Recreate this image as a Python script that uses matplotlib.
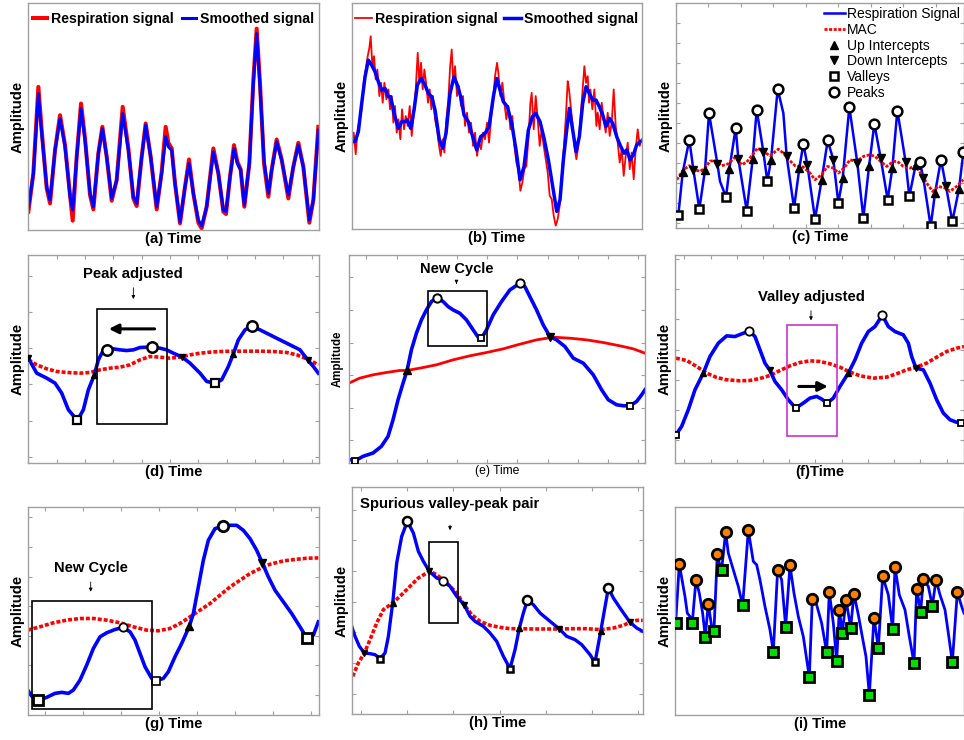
import numpy as np
import matplotlib
matplotlib.use('Agg')
import matplotlib.pyplot as plt
from matplotlib.patches import Rectangle
from matplotlib.lines import Line2D

plt.rcParams['font.family'] = ['Liberation Sans', 'DejaVu Sans']
plt.rcParams['font.weight'] = 'bold'

W, H = 964, 740
BLUE = '#0000ff'
RED = '#ff0000'
GREY = '#a0a0a0'
MAC_DOTS = (0, (1.1, 0.55))

# ---------------- data (arbitrary units) ----------------
# (a) respiration vs smoothed
a_t = [2, 17, 32, 42, 57, 67, 82, 97, 112, 127, 135, 147, 160, 172, 187, 197, 212, 224, 237, 252,
       267, 285, 302, 317, 327, 342, 354, 369, 387, 402, 414, 422, 432, 442, 457, 472, 484, 497, 512, 522,
       537, 557, 572, 587, 595, 607, 619, 629, 639, 644, 650, 665, 677, 687, 697, 709, 722, 732, 747, 762,
       782, 797, 812, 827, 845, 857, 872]
a_smooth = [65, 170, 410, 290, 130, 90, 240, 335, 250, 100, 60, 220, 365, 270, 110, 70, 230, 305, 220, 95,
            150, 350, 240, 100, 80, 220, 315, 220, 70, 170, 280, 250, 240, 140, 25, 130, 200, 110, 30, 12,
            70, 235, 170, 60, 55, 160, 245, 200, 180, 130, 75, 200, 440, 590, 430, 210, 110, 180, 265, 210,
            105, 190, 255, 190, 30, 90, 300]
a_resp = [55, 170, 430, 300, 125, 80, 240, 345, 255, 105, 28, 220, 380, 275, 105, 62, 230, 310, 220, 88,
          150, 370, 245, 95, 72, 220, 320, 220, 62, 175, 310, 262, 245, 140, 20, 130, 212, 110, 22, 5,
          70, 245, 170, 55, 48, 160, 255, 205, 182, 130, 70, 200, 450, 605, 440, 200, 100, 180, 272, 212,
          95, 190, 262, 190, 22, 90, 310]

# (b) noisy respiration vs smoothed
b_t = [0, 10, 20, 30, 40, 50, 60, 70, 80, 90, 100, 110, 117, 127, 140, 150, 160, 167, 177, 187,
       197, 208, 220, 230, 240, 250, 263, 273, 283, 295, 307, 317, 327, 337, 350, 360, 375, 387, 400, 412,
       425, 435, 445, 455, 467, 480, 493, 505, 517, 530, 542, 552, 565, 577, 590, 603, 615, 625, 635, 645,
       653, 663, 673, 683, 693, 703, 713, 723, 733, 743, 753, 763, 773, 783, 795, 805, 817, 825, 835, 845,
       855, 865]
b_smooth = [263, 263, 293, 378, 458, 508, 493, 473, 443, 418, 423, 398, 398, 348, 303, 323, 323, 328, 303, 358,
            433, 453, 433, 408, 398, 358, 268, 243, 288, 408, 458, 433, 398, 343, 323, 288, 238, 278, 288, 308,
            398, 453, 418, 383, 368, 318, 238, 148, 188, 298, 338, 348, 323, 273, 208, 128, 53, 88, 208, 298,
            363, 298, 233, 278, 378, 428, 408, 388, 388, 368, 343, 308, 333, 318, 278, 253, 228, 238, 208, 223,
            253, 263]
b_rt = [0, 6, 12, 18, 24, 30, 36, 42, 48, 53, 57, 62, 67, 72, 77, 83, 88, 93, 98, 104,
        110, 115, 120, 125, 130, 135, 140, 146, 151, 157, 162, 168, 174, 180, 186, 192, 198, 203, 208, 213,
        218, 223, 229, 234, 239, 244, 250, 256, 262, 267, 273, 278, 284, 290, 295, 300, 305, 310, 316, 322,
        328, 334, 340, 346, 352, 358, 364, 370, 376, 382, 388, 394, 400, 406, 412, 418, 424, 430, 436, 440,
        446, 452, 458, 464, 470, 476, 482, 488, 494, 500, 506, 512, 518, 524, 530, 536, 540, 546, 552, 558,
        564, 570, 576, 582, 588, 594, 600, 606, 612, 618, 624, 630, 636, 642, 648, 652, 656, 662, 668, 674,
        680, 686, 692, 698, 703, 708, 712, 716, 722, 728, 734, 738, 744, 750, 756, 762, 768, 774, 780, 786,
        792, 798, 804, 810, 816, 822, 828, 834, 840, 846, 852, 858, 864, 870]
b_resp = [240, 290, 225, 300, 330, 360, 440, 480, 520, 545, 580, 490, 520, 450, 480, 400, 440, 380, 440, 390,
          420, 360, 400, 320, 370, 290, 330, 270, 360, 300, 340, 310, 370, 280, 340, 420, 530, 440, 500, 420,
          480, 440, 380, 420, 360, 400, 330, 300, 250, 220, 270, 230, 330, 390, 485, 540, 440, 490, 400, 430,
          370, 400, 310, 350, 290, 320, 250, 290, 220, 260, 240, 290, 270, 320, 260, 330, 380, 460, 500, 470,
          400, 440, 380, 330, 370, 300, 340, 250, 200, 180, 115, 140, 180, 190, 270, 380, 410, 300, 400, 330,
          250, 300, 250, 210, 170, 100, 90, 40, 10, 30, 70, 160, 240, 330, 445, 420, 380, 320, 250, 210,
          250, 330, 410, 490, 440, 460, 380, 420, 360, 420, 310, 350, 300, 380, 330, 290, 350, 280, 320, 420,
          310, 260, 200, 240, 160, 220, 260, 180, 230, 150, 240, 300, 250, 270]

# (c) signal, MAC and detected points
c_t = [8, 21, 41, 53, 71, 88, 100, 125, 133, 151, 161, 180, 188, 213, 231, 243, 263, 275, 286, 306,
       323, 333, 355, 371, 383, 395, 418, 438, 456, 473, 488, 501, 521, 545, 563, 580, 596, 615, 636, 650,
       665, 690, 701, 720, 733, 743, 765, 778, 796, 811, 830, 850, 863]
c_sig = [40, 167, 265, 175, 57, 175, 345, 193, 140, 93, 177, 300, 207, 52, 207, 355, 229, 140, 205, 417,
         345, 215, 60, 180, 253, 190, 27, 145, 263, 205, 75, 150, 363, 195, 30, 185, 313, 210, 85, 180,
         353, 198, 95, 190, 197, 150, 5, 105, 205, 125, 20, 117, 228]
c_mac_t = [3, 23, 41, 58, 73, 88, 103, 118, 138, 158, 178, 198, 213, 233, 245, 263, 283, 308, 323, 338,
           358, 383, 403, 418, 438, 455, 473, 488, 505, 523, 543, 563, 583, 598, 615, 633, 653, 665, 683, 703,
           720, 738, 753, 771, 788, 808, 823, 843, 863]
c_mac = [145, 175, 187, 175, 170, 180, 201, 202, 187, 193, 213, 190, 198, 223, 240, 230, 217, 237, 225, 207,
         187, 183, 165, 145, 160, 185, 180, 165, 180, 205, 200, 215, 220, 215, 200, 185, 200, 200, 185, 180,
         187, 160, 135, 110, 125, 120, 110, 125, 145]
c_valleys = [0, 4, 9, 13, 17, 22, 26, 30, 34, 38, 42, 46, 50]
c_ups = [1, 5, 10, 14, 18, 23, 27, 31, 35, 39, 43, 47, 51]
c_peaks = [2, 6, 11, 15, 19, 24, 28, 32, 36, 40, 44, 48, 52]
c_downs = [3, 7, 12, 16, 21, 25, 29, 33, 37, 41, 45, 49]

# (d) peak adjusted
d_t = [2, 27, 57, 82, 102, 122, 149, 167, 182, 200, 212, 225, 237, 257, 277, 297, 317, 337, 357, 374,
       397, 417, 437, 464, 487, 517, 537, 562, 582, 602, 617, 632, 652, 672, 697, 727, 757, 787, 817, 840,
       857, 872]
d_sig = [315, 270, 255, 240, 210, 160, 128, 160, 220, 265, 310, 335, 340, 343, 340, 338, 340, 347, 348, 348,
         345, 340, 330, 318, 300, 270, 245, 240, 250, 290, 328, 370, 400, 412, 400, 385, 370, 355, 340, 310,
         290, 270]
d_mac_t = [2, 27, 57, 87, 117, 157, 187, 217, 247, 277, 307, 337, 367, 397, 427, 457, 487, 517, 547, 577,
           617, 657, 697, 737, 777, 807, 837, 857, 872]
d_mac = [310, 295, 283, 275, 272, 270, 272, 280, 285, 288, 295, 310, 320, 318, 315, 318, 325, 330, 333, 335,
         336, 336, 336, 335, 332, 325, 313, 303, 295]
d_peaks = [12, 19, 33]
d_valleys = [6, 27]
d_ups = [9, 30]
d_downs = [0, 23, 39]

# (e) new cycle
e_t = [4, 19, 42, 72, 97, 117, 132, 147, 162, 174, 187, 202, 217, 232, 247, 264, 282, 297, 312, 332,
       352, 372, 387, 397, 412, 432, 457, 482, 512, 527, 542, 562, 582, 602, 622, 647, 672, 702, 732, 757,
       777, 802, 822, 842, 862, 877, 887]
e_sig = [10, 7, 20, 30, 50, 80, 130, 190, 240, 278, 340, 390, 430, 460, 485, 497, 485, 470, 460, 450,
         430, 400, 378, 375, 400, 445, 485, 520, 540, 530, 500, 460, 415, 380, 370, 350, 315, 300, 265, 220,
         190, 175, 172, 172, 185, 205, 220]
e_mac_t = [0, 32, 72, 112, 152, 174, 212, 262, 312, 362, 412, 462, 512, 562, 612, 662, 712, 762, 812, 852, 887]
e_mac = [240, 255, 265, 272, 278, 278, 285, 295, 310, 322, 332, 343, 357, 370, 378, 375, 370, 362, 352, 343, 330]
e_peaks = [15, 28]
e_valleys = [1, 23, 43]
e_ups = [9]
e_downs = [33]

# (f) valley adjusted
f_t = [2, 19, 39, 59, 84, 104, 129, 154, 179, 199, 222, 239, 254, 269, 284, 299, 319, 339, 361, 384,
       404, 424, 439, 456, 474, 494, 519, 539, 559, 579, 599, 621, 639, 659, 684, 699, 709, 722, 744, 764,
       784, 804, 824, 842, 857]
f_sig = [85, 110, 160, 220, 270, 320, 360, 382, 380, 388, 397, 380, 340, 300, 278, 245, 220, 190, 165, 180,
         195, 200, 192, 180, 195, 230, 270, 310, 360, 395, 410, 444, 410, 395, 385, 360, 320, 285, 280, 240,
         190, 150, 130, 123, 120]
f_mac_t = [2, 34, 64, 94, 124, 154, 194, 224, 254, 284, 314, 344, 374, 404, 434, 464, 494, 524, 554, 594,
           634, 664, 694, 724, 754, 784, 814, 844, 866]
f_mac = [315, 308, 290, 270, 257, 250, 247, 248, 254, 263, 278, 292, 302, 307, 305, 298, 288, 273, 262, 255,
         258, 268, 280, 288, 300, 318, 335, 345, 350]
f_peaks = [10, 31]
f_valleys = [0, 18, 23, 44]
f_ups = [4, 26]
f_downs = [14, 37]

# (g) new cycle
g_t = [0, 12, 32, 57, 82, 102, 122, 137, 157, 177, 197, 217, 237, 262, 285, 307, 322, 337, 352, 372,
       384, 407, 422, 442, 462, 485, 497, 512, 527, 542, 562, 587, 607, 627, 647, 667, 687, 704, 722, 742,
       767, 792, 817, 837, 857, 872]
g_sig = [75, 57, 45, 53, 65, 68, 65, 75, 105, 150, 200, 235, 247, 257, 263, 250, 225, 185, 145, 110,
         102, 110, 130, 175, 215, 267, 305, 385, 465, 525, 560, 568, 570, 570, 555, 530, 495, 457, 415, 375,
         340, 305, 265, 232, 240, 280]
g_mac_t = [0, 37, 77, 117, 157, 197, 237, 277, 317, 357, 392, 427, 457, 487, 517, 547, 577, 607, 637, 667,
           697, 727, 767, 807, 837, 872]
g_mac = [255, 265, 277, 285, 290, 290, 285, 277, 265, 255, 253, 260, 275, 295, 315, 335, 360, 385, 405, 425,
         440, 453, 463, 468, 471, 472]
g_peaks_big = [31]
g_peaks_small = [14]
g_valleys_big = [2, 43]
g_valleys_small = [20]
g_ups = [25]
g_downs = [37]

# (h) spurious valley-peak pair
h_t = [0, 10, 23, 38, 55, 70, 85, 100, 110, 123, 135, 150, 167, 185, 200, 215, 233, 255, 275, 295,
       315, 337, 355, 370, 395, 415, 435, 455, 475, 490, 503, 515, 527, 545, 565, 595, 623, 645, 670, 690,
       715, 730, 747, 770, 785, 805, 835, 855, 873]
h_sig = [263, 233, 203, 183, 181, 178, 166, 183, 233, 333, 453, 533, 578, 543, 488, 458, 428, 408, 400, 383,
         353, 328, 293, 278, 263, 243, 218, 173, 136, 193, 258, 303, 341, 328, 303, 278, 255, 233, 223, 208,
         178, 155, 248, 378, 348, 318, 275, 258, 248]
h_mac_t = [3, 20, 38, 55, 75, 95, 123, 150, 175, 200, 233, 255, 285, 315, 337, 360, 385, 415, 445, 475,
           505, 545, 585, 623, 665, 705, 747, 785, 815, 835, 855, 873]
h_mac = [113, 153, 183, 223, 273, 313, 333, 358, 383, 408, 428, 418, 393, 363, 328, 298, 278, 266, 260, 256,
         256, 255, 255, 255, 256, 256, 253, 258, 266, 275, 281, 281]
h_peaks_big = [12, 32, 43]
h_peaks_small = [18]
h_valleys = [6, 28, 41]
h_ups = [9, 30, 42]
h_downs = [3, 16, 21, 36, 46]

# (i) final peaks and valleys
i_t = [1, 12, 29, 36, 44, 51, 62, 72, 82, 90, 99, 109, 116, 126, 132, 139, 151, 159, 174, 189,
       202, 219, 234, 244, 254, 269, 284, 294, 307, 319, 331, 344, 356, 369, 384, 402, 411, 424, 439, 454,
       462, 474, 484, 492, 501, 512, 526, 536, 549, 559, 572, 582, 596, 609, 622, 639, 652, 659, 672, 689,
       702, 716, 724, 736, 744, 759, 771, 782, 794, 809, 819, 831, 846, 859, 866]
i_sig = [275, 452, 355, 305, 295, 277, 405, 365, 305, 235, 333, 265, 253, 482, 455, 435, 548, 485, 435, 385,
         328, 553, 460, 450, 405, 325, 255, 190, 435, 405, 265, 448, 365, 295, 235, 113, 348, 330, 275, 188,
         367, 275, 162, 315, 245, 345, 262, 363, 300, 245, 175, 60, 292, 200, 415, 360, 257, 443, 360, 315,
         235, 155, 378, 310, 407, 385, 327, 405, 360, 315, 245, 158, 368, 325, 305]
i_valleys = [0, 5, 9, 12, 15, 20, 27, 30, 35, 39, 42, 44, 46, 51, 53, 56, 61, 63, 66, 71]
i_peaks = [1, 6, 10, 13, 16, 21, 28, 31, 36, 40, 43, 45, 47, 52, 54, 57, 62, 64, 67, 72]


# ---------------- helpers ----------------
def make_ax(l, t, r, b, xmax, ymax):
    ax = fig.add_axes([l / W, 1 - b / H, (r - l) / W, (b - t) / H])
    ax.set_xlim(0, xmax)
    ax.set_ylim(0, ymax)
    for s in ax.spines.values():
        s.set_color(GREY)
        s.set_linewidth(1.0)
    ax.set_xticks([])
    ax.set_yticks([])
    return ax


def add_ticks(ax, xt, yt, both=True):
    ax.set_xticks(xt)
    ax.set_yticks(yt)
    ax.tick_params(direction='in', length=3, width=0.8, color=GREY,
                   labelbottom=False, labelleft=False, top=both, right=both)


def labels(ax, xl, xsize=10.7, ysize=10.7, xweight='bold', xpad=1.5, ypad=2.5):
    ax.set_xlabel(xl, fontsize=xsize, fontweight=xweight, labelpad=xpad)
    ax.set_ylabel('Amplitude', fontsize=ysize, fontweight='bold', labelpad=ypad)


def marks(ax, t, y, idx, **kw):
    t = np.asarray(t)
    y = np.asarray(y)
    ax.plot(t[idx], y[idx], ls='none', zorder=5, **kw)


def peaks(ax, t, y, idx, ms=7, mew=1.8, face='white'):
    marks(ax, t, y, idx, marker='o', ms=ms, mfc=face, mec='k', mew=mew)


def valleys(ax, t, y, idx, ms=5.5, mew=1.6, face='white'):
    marks(ax, t, y, idx, marker='s', ms=ms, mfc=face, mec='k', mew=mew)


def ups(ax, t, y, idx, ms=5):
    marks(ax, t, y, idx, marker='^', ms=ms, color='k', mec='k')


def downs(ax, t, y, idx, ms=5):
    marks(ax, t, y, idx, marker='v', ms=ms, color='k', mec='k')


def note(ax, text, xy_text, arrow_from, arrow_to, size=10.7):
    ax.text(xy_text[0], xy_text[1], text, ha='center', va='center', fontsize=size, fontweight='bold')
    ax.annotate('', xy=arrow_to, xytext=arrow_from,
                arrowprops=dict(arrowstyle='-|>', lw=0.6, color='k', mutation_scale=5))


def box(ax, x0, y0, x1, y1, color='k'):
    ax.add_patch(Rectangle((x0, y0), x1 - x0, y1 - y0, fill=False, ec=color, lw=1.2, zorder=6))


fig = plt.figure(figsize=(W / 100, H / 100), dpi=100)

# (a)
ax = make_ax(27.7, 3, 319, 230, 874, 682)
ax.plot(a_t, a_resp, color=RED, lw=2.9, label='Respiration signal')
ax.plot(a_t, a_smooth, color=BLUE, lw=2.2, label='Smoothed signal')
ax.legend(loc='upper center', ncol=2, frameon=False, fontsize=10.2, handlelength=1.0,
          handletextpad=0.25, columnspacing=0.6, borderaxespad=0.25)
labels(ax, '(a) Time')

# (b)
ax = make_ax(351.7, 3, 641.7, 229, 870, 680)
ax.plot(b_rt, b_resp, color=RED, lw=1.3, label='Respiration signal')
ax.plot(b_t, b_smooth, color=BLUE, lw=2.5, label='Smoothed signal')
ax.legend(loc='upper center', ncol=2, frameon=False, fontsize=10.2, handlelength=1.2,
          handletextpad=0.25, columnspacing=0.4, borderaxespad=0.25)
labels(ax, '(b) Time')

# (c)
ax = make_ax(675.7, 3, 964, 228, 865, 676)
add_ticks(ax, np.arange(0, 865, 97.6), np.arange(15, 676, 60.2))
ax.plot(c_t, c_sig, color=BLUE, lw=1.8)
ax.plot(c_mac_t, c_mac, color=RED, lw=2.0, ls=MAC_DOTS)
ups(ax, c_t, c_sig, c_ups, ms=6)
downs(ax, c_t, c_sig, c_downs, ms=6)
valleys(ax, c_t, c_sig, c_valleys, ms=5.5, mew=1.8)
peaks(ax, c_t, c_sig, c_peaks, ms=7, mew=1.8)
handles = [Line2D([], [], color=BLUE, lw=1.8),
           Line2D([], [], color=RED, lw=2.0, ls=MAC_DOTS),
           Line2D([], [], ls='none', marker='^', color='k', ms=6),
           Line2D([], [], ls='none', marker='v', color='k', ms=6),
           Line2D([], [], ls='none', marker='s', mfc='white', mec='k', mew=1.8, ms=5.5),
           Line2D([], [], ls='none', marker='o', mfc='white', mec='k', mew=1.8, ms=7)]
ax.legend(handles, ['Respiration Signal', 'MAC', 'Up Intercepts', 'Down Intercepts', 'Valleys', 'Peaks'],
          loc='upper right', frameon=False, prop={'size': 10, 'weight': 'normal'},
          handlelength=1.5, handletextpad=0.15, labelspacing=0.12, borderaxespad=0.1, borderpad=0.2)
labels(ax, '(c) Time')

# (d)
ax = make_ax(27.7, 255, 319, 463, 874, 625)
add_ticks(ax, np.arange(2, 874, 85), np.arange(18, 625, 109))
ax.plot(d_mac_t, d_mac, color=RED, lw=2.6, ls=MAC_DOTS)
ax.plot(d_t, d_sig, color=BLUE, lw=2.6)
ups(ax, d_t, d_sig, d_ups)
downs(ax, d_t, d_sig, d_downs)
valleys(ax, d_t, d_sig, d_valleys, ms=6, mew=1.6)
peaks(ax, d_t, d_sig, d_peaks, ms=7.5, mew=1.8)
box(ax, 207, 118, 419, 462)
ax.annotate('', xy=(235, 403), xytext=(389, 403),
            arrowprops=dict(arrowstyle='-|>', lw=2.2, color='k', mutation_scale=14))
note(ax, 'Peak adjusted', (317, 568), (317, 535), (317, 484))
labels(ax, '(d) Time')

# (e)
ax = make_ax(349, 255, 645, 463, 887, 625)
add_ticks(ax, np.arange(52, 887, 90.5), np.arange(68, 625, 98))
ax.plot(e_mac_t, e_mac, color=RED, lw=2.0)
ax.plot(e_t, e_sig, color=BLUE, lw=2.6)
ups(ax, e_t, e_sig, e_ups, ms=5.5)
downs(ax, e_t, e_sig, e_downs, ms=5.5)
valleys(ax, e_t, e_sig, e_valleys, ms=5, mew=1.3)
peaks(ax, e_t, e_sig, e_peaks, ms=6, mew=1.4)
box(ax, 237, 353, 415, 517)
note(ax, 'New Cycle', (322, 582), (322, 550), (322, 530), size=10.5)
labels(ax, '(e) Time', xsize=8.7, ysize=8.3, xweight='normal', xpad=1.5, ypad=3.5)

# (f)
ax = make_ax(675.3, 255, 964, 463, 866, 625)
add_ticks(ax, np.arange(27, 866, 78.7), np.arange(68, 625, 91))
ax.plot(f_mac_t, f_mac, color=RED, lw=2.6, ls=MAC_DOTS)
ax.plot(f_t, f_sig, color=BLUE, lw=2.6)
ups(ax, f_t, f_sig, f_ups)
downs(ax, f_t, f_sig, f_downs)
valleys(ax, f_t, f_sig, f_valleys, ms=5, mew=1.3)
peaks(ax, f_t, f_sig, f_peaks, ms=6, mew=1.3)
box(ax, 335, 82, 486, 416, color='#cc33cc')
ax.annotate('', xy=(466, 230), xytext=(362, 230),
            arrowprops=dict(arrowstyle='-|>', lw=2.2, color='k', mutation_scale=14))
note(ax, 'Valley adjusted', (407, 498), (407, 466), (407, 420))
labels(ax, '(f)Time')

# (g)
ax = make_ax(27.7, 507, 319, 715, 874, 625)
add_ticks(ax, np.arange(52, 874, 114), np.arange(60, 625, 89))
ax.plot(g_mac_t, g_mac, color=RED, lw=2.6, ls=MAC_DOTS)
ax.plot(g_t, g_sig, color=BLUE, lw=2.6)
ups(ax, g_t, g_sig, g_ups, ms=6)
downs(ax, g_t, g_sig, g_downs, ms=6)
valleys(ax, g_t, g_sig, g_valleys_big, ms=6.5, mew=2.0)
valleys(ax, g_t, g_sig, g_valleys_small, ms=5.5, mew=1.2)
peaks(ax, g_t, g_sig, g_peaks_big, ms=7.5, mew=2.0)
peaks(ax, g_t, g_sig, g_peaks_small, ms=6, mew=1.3)
box(ax, 12, 18, 373, 342)
note(ax, 'New Cycle', (189, 443), (189, 408), (189, 362), size=10.6)
labels(ax, '(g) Time')

# (h)
ax = make_ax(351.7, 487, 642.7, 714, 873, 681)
add_ticks(ax, np.arange(28, 873, 138.6), np.arange(61, 681, 92))
ax.plot(h_mac_t, h_mac, color=RED, lw=2.6, ls=MAC_DOTS)
ax.plot(h_t, h_sig, color=BLUE, lw=2.4)
ups(ax, h_t, h_sig, h_ups, ms=4.5)
downs(ax, h_t, h_sig, h_downs, ms=4.5)
valleys(ax, h_t, h_sig, h_valleys, ms=5, mew=1.8)
peaks(ax, h_t, h_sig, h_peaks_big, ms=6.5, mew=1.8)
peaks(ax, h_t, h_sig, h_peaks_small, ms=6, mew=1.3)
box(ax, 233, 273, 320, 515)
note(ax, 'Spurious valley-peak pair', (295, 631), (295, 575), (295, 543), size=10.7)
labels(ax, '(h) Time')

# (i)
ax = make_ax(675.3, 507, 964, 715, 866, 623)
ax.plot(i_t, i_sig, color=BLUE, lw=2.0)
valleys(ax, i_t, i_sig, i_valleys, ms=6.5, mew=2.0, face='#00dd00')
peaks(ax, i_t, i_sig, i_peaks, ms=7.5, mew=2.0, face='#ff8000')
labels(ax, '(i) Time')

fig.savefig('out.png', dpi=100)
